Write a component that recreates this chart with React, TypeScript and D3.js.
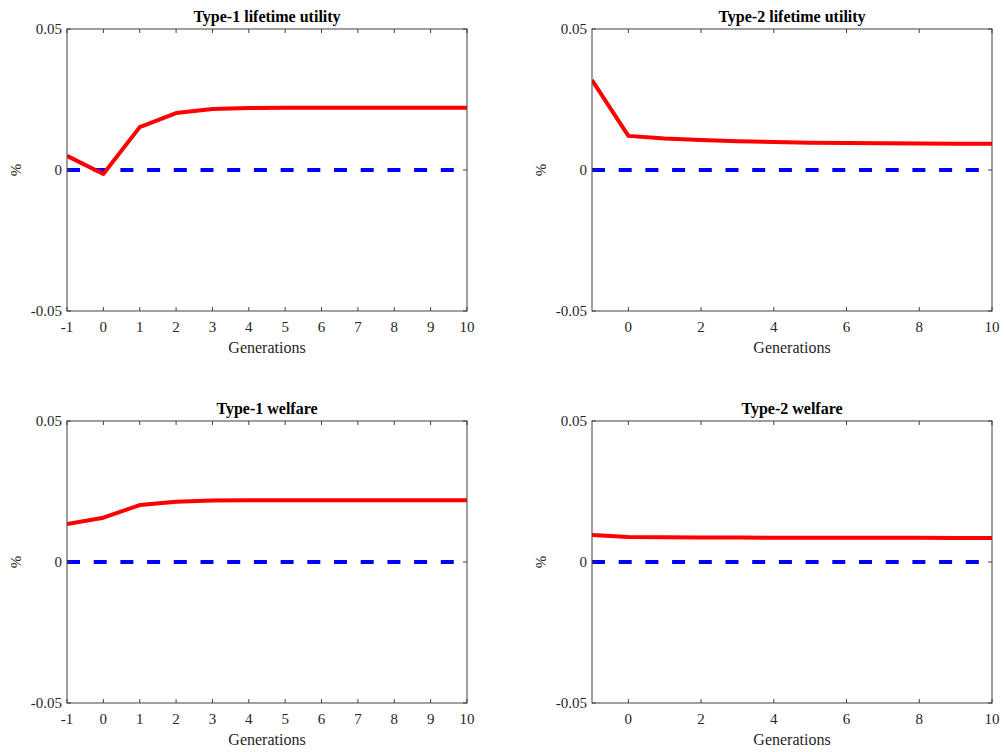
import React from "react";
import * as d3 from "d3";

const generations = [-1, 0, 1, 2, 3, 4, 5, 6, 7, 8, 9, 10];
const type1Utility = [0.005, -0.0014, 0.0152, 0.0202, 0.0216, 0.022, 0.0221, 0.0221, 0.0221, 0.0221, 0.0221, 0.0221];
const type2Utility = [0.0319, 0.0121, 0.0112, 0.0106, 0.0102, 0.0099, 0.0097, 0.0096, 0.0095, 0.0094, 0.0093, 0.0093];
const type1Welfare = [0.0135, 0.0157, 0.0202, 0.0214, 0.0218, 0.0219, 0.0219, 0.0219, 0.0219, 0.0219, 0.0219, 0.0219];
const type2Welfare = [0.0096, 0.0089, 0.0088, 0.0087, 0.0087, 0.0086, 0.0086, 0.0086, 0.0086, 0.0086, 0.0085, 0.0085];
const baseline = [0, 0, 0, 0, 0, 0, 0, 0, 0, 0, 0, 0];

const ticksDense = [-1, 0, 1, 2, 3, 4, 5, 6, 7, 8, 9, 10];
const ticksSparse = [0, 2, 4, 6, 8, 10];
const yTicks = [-0.05, 0, 0.05];

const titles = ["Type-1 lifetime utility", "Type-2 lifetime utility", "Type-1 welfare", "Type-2 welfare"];

const FONT = "Liberation Serif, DejaVu Serif, Times New Roman, serif";
const AXIS = "#404040";
const TXT = "#262626";

type PanelProps = {
  x0: number; x1: number; y0: number; y1: number;
  title: string; values: number[]; xticks: number[];
};

function Panel({ x0, x1, y0, y1, title, values, xticks }: PanelProps) {
  const x = d3.scaleLinear().domain([-1, 10]).range([x0, x1]);
  const y = d3.scaleLinear().domain([-0.05, 0.05]).range([y1, y0]);
  const line = d3.line<number>().x((_, i) => x(generations[i])).y((v) => y(v));
  const tl = 4;
  const ts = { fontFamily: FONT };
  return (
    <g>
      <defs>
        <clipPath id={`clip-${x0}-${y0}`}>
          <rect x={x0} y={y0} width={x1 - x0} height={y1 - y0} />
        </clipPath>
      </defs>
      <g clipPath={`url(#clip-${x0}-${y0})`}>
        <path d={line(baseline) || ""} fill="none" stroke="#0000ff" strokeWidth={4} strokeDasharray="13 13.7" />
        <path d={line(values) || ""} fill="none" stroke="#ff0000" strokeWidth={4} strokeLinejoin="round" />
      </g>
      <rect x={x0} y={y0} width={x1 - x0} height={y1 - y0} fill="none" stroke={AXIS} strokeWidth={1} />
      {xticks.map((t) => (
        <g key={`xt${t}`}>
          <line x1={x(t)} x2={x(t)} y1={y1} y2={y1 - tl} stroke={AXIS} />
          <line x1={x(t)} x2={x(t)} y1={y0} y2={y0 + tl} stroke={AXIS} />
          <text x={x(t)} y={y1 + 21} textAnchor="middle" fontSize={15} style={ts} fill={TXT}>{t}</text>
        </g>
      ))}
      {yTicks.map((t) => (
        <g key={`yt${t}`}>
          <line x1={x0} x2={x0 + tl} y1={y(t)} y2={y(t)} stroke={AXIS} />
          <line x1={x1} x2={x1 - tl} y1={y(t)} y2={y(t)} stroke={AXIS} />
          <text x={x0 - 5} y={y(t) + 5} textAnchor="end" fontSize={15} style={ts} fill={TXT}>{t}</text>
        </g>
      ))}
      <text x={(x0 + x1) / 2} y={y1 + 42} textAnchor="middle" fontSize={16} style={ts} fill={TXT}>Generations</text>
      <text transform={`translate(${x0 - 46},${y(0)}) rotate(-90)`} textAnchor="middle" fontSize={15} style={ts} fill={TXT}>%</text>
      <text x={(x0 + x1) / 2} y={y0 - 7} textAnchor="middle" fontSize={16} fontWeight="bold" style={ts} fill="#000">{title}</text>
    </g>
  );
}

export default function App() {
  return (
    <svg width={1004} height={752} style={{ position: "absolute", left: 0, top: 0, background: "#fff" }}>
      <rect width={1004} height={752} fill="#fff" />
      <Panel x0={67} x1={467} y0={29} y1={311} title={titles[0]} values={type1Utility} xticks={ticksDense} />
      <Panel x0={592} x1={992} y0={29} y1={311} title={titles[1]} values={type2Utility} xticks={ticksSparse} />
      <Panel x0={67} x1={467} y0={421} y1={703} title={titles[2]} values={type1Welfare} xticks={ticksDense} />
      <Panel x0={592} x1={992} y0={421} y1={703} title={titles[3]} values={type2Welfare} xticks={ticksSparse} />
    </svg>
  );
}
